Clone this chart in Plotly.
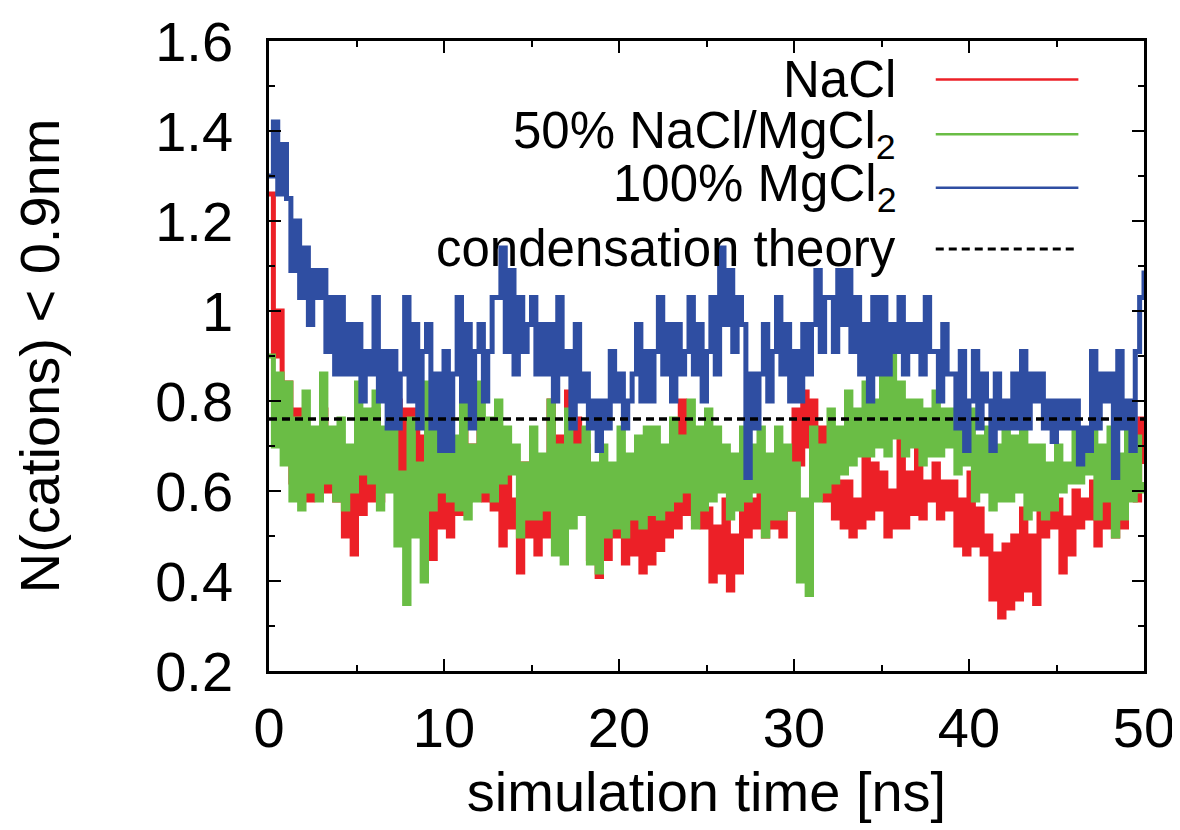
import plotly.graph_objects as go

step = 0.25

# N(cations) < 0.9 nm (4 samples per ns, last one at t=50)
nacl = [
    1.26, 0.90, 1.00, 0.75,  0.84, 0.62, 0.78, 0.66,  0.70, 0.58, 0.66, 0.60,  0.78, 0.60, 0.70, 0.58,
    0.64, 0.50, 0.60, 0.46,  0.76, 0.55, 0.68, 0.58,  0.78, 0.58, 0.72, 0.62,  0.68, 0.80, 0.64, 0.78,
    0.66, 0.78, 0.62, 0.72,  0.60, 0.45, 0.64, 0.52,  0.62, 0.50, 0.68, 0.55,  0.78, 0.58, 0.70, 0.62,
    0.74, 0.58, 0.66, 0.56,  0.62, 0.48, 0.66, 0.52,  0.58, 0.42, 0.66, 0.50,  0.62, 0.46, 0.58, 0.50,
    0.80, 0.55, 0.72, 0.60,  0.82, 0.62, 0.76, 0.60,  0.70, 0.45, 0.62, 0.41,  0.58, 0.45, 0.62, 0.50,
    0.58, 0.44, 0.55, 0.46,  0.56, 0.42, 0.58, 0.44,  0.62, 0.47, 0.58, 0.50,  0.66, 0.52, 0.80, 0.55,
    0.74, 0.54, 0.68, 0.52,  0.56, 0.40, 0.52, 0.42,  0.58, 0.38, 0.50, 0.42,  0.62, 0.50, 0.58, 0.52,
    0.62, 0.50, 0.56, 0.52,  0.68, 0.50, 0.62, 0.56,  0.78, 0.66, 0.82, 0.70,  0.80, 0.62, 0.74, 0.58,
    0.64, 0.54, 0.62, 0.52,  0.62, 0.50, 0.58, 0.52,  0.68, 0.54, 0.66, 0.56,  0.64, 0.50, 0.60, 0.52,
    0.72, 0.52, 0.64, 0.55,  0.70, 0.54, 0.62, 0.58,  0.66, 0.54, 0.62, 0.56,  0.62, 0.48, 0.58, 0.46,
    0.64, 0.48, 0.56, 0.46,  0.50, 0.36, 0.46, 0.32,  0.48, 0.34, 0.50, 0.36,  0.56, 0.38, 0.50, 0.35,
    0.62, 0.50, 0.60, 0.52,  0.58, 0.42, 0.54, 0.46,  0.60, 0.52, 0.58, 0.54,  0.62, 0.48, 0.60, 0.52,
    0.58, 0.50, 0.56, 0.52,  0.60, 0.70, 0.58, 0.76,
    0.66,
]

mix50 = [
    0.90, 0.70, 0.86, 0.66,  0.84, 0.58, 0.76, 0.56,  0.82, 0.60, 0.74, 0.58,  0.86, 0.62, 0.74, 0.58,
    0.76, 0.56, 0.70, 0.60,  0.84, 0.64, 0.78, 0.62,  0.82, 0.56, 0.74, 0.60,  0.74, 0.48, 0.64, 0.35,
    0.76, 0.50, 0.66, 0.40,  0.84, 0.56, 0.76, 0.60,  0.78, 0.58, 0.72, 0.56,  0.80, 0.54, 0.70, 0.58,
    0.84, 0.60, 0.76, 0.58,  0.80, 0.62, 0.74, 0.64,  0.70, 0.50, 0.66, 0.54,  0.74, 0.54, 0.68, 0.56,
    0.80, 0.46, 0.70, 0.44,  0.78, 0.52, 0.70, 0.55,  0.74, 0.44, 0.66, 0.42,  0.70, 0.50, 0.66, 0.52,
    0.74, 0.50, 0.68, 0.54,  0.72, 0.52, 0.74, 0.55,  0.74, 0.54, 0.70, 0.56,  0.76, 0.58, 0.72, 0.60,
    0.80, 0.52, 0.74, 0.56,  0.78, 0.58, 0.74, 0.60,  0.70, 0.54, 0.68, 0.56,  0.74, 0.58, 0.70, 0.60,
    0.74, 0.50, 0.68, 0.54,  0.74, 0.54, 0.70, 0.56,  0.66, 0.40, 0.58, 0.37,  0.74, 0.58, 0.70, 0.60,
    0.78, 0.62, 0.74, 0.64,  0.82, 0.66, 0.78, 0.68,  0.84, 0.68, 0.80, 0.70,  0.88, 0.68, 0.90, 0.72,
    0.84, 0.68, 0.80, 0.70,  0.80, 0.66, 0.78, 0.68,  0.82, 0.68, 0.78, 0.70,  0.78, 0.64, 0.74, 0.66,
    0.78, 0.58, 0.72, 0.60,  0.74, 0.56, 0.70, 0.58,  0.76, 0.58, 0.72, 0.60,  0.74, 0.54, 0.70, 0.56,
    0.70, 0.54, 0.66, 0.56,  0.70, 0.60, 0.66, 0.62,  0.74, 0.62, 0.70, 0.64,  0.76, 0.54, 0.70, 0.58,
    0.74, 0.50, 0.68, 0.54,  0.76, 0.58, 0.72, 0.60,
    0.62,
]

mgcl2 = [
    1.30, 1.42, 1.26, 1.37,  1.25, 1.09, 1.20, 1.03,  1.14, 0.97, 1.09, 1.03,  1.09, 0.91, 1.03, 0.86,
    1.03, 0.86, 0.97, 0.86,  0.97, 0.80, 0.91, 0.86,  1.03, 0.80, 0.91, 0.74,  0.91, 0.74, 0.86, 1.03,
    0.80, 0.97, 0.74, 0.91,  0.97, 0.74, 0.86, 0.69,  0.91, 0.69, 0.86, 1.03,  0.80, 0.97, 0.74, 0.91,
    0.97, 0.80, 0.91, 1.03,  1.03, 1.14, 0.91, 1.09,  0.86, 1.03, 0.91, 0.97,  1.03, 0.86, 0.97, 0.86,
    0.97, 0.80, 1.03, 0.86,  0.91, 0.74, 0.97, 0.80,  0.86, 0.74, 0.80, 0.69,  0.80, 0.74, 0.91, 0.80,
    0.86, 0.74, 0.80, 0.86,  0.97, 0.80, 0.91, 0.80,  0.91, 1.03, 0.86, 0.97,  0.80, 0.97, 0.86, 0.91,
    1.03, 0.86, 0.97, 0.80,  0.91, 1.03, 0.86, 1.14,  0.97, 1.09, 0.91, 1.03,  0.97, 0.63, 0.86, 0.74,
    0.86, 0.97, 0.80, 0.91,  1.03, 0.86, 0.97, 0.80,  0.91, 0.80, 0.97, 0.86,  0.97, 1.09, 0.91, 1.03,
    1.03, 0.91, 1.09, 0.97,  1.09, 0.91, 1.03, 0.86,  0.97, 0.80, 1.03, 0.86,  1.03, 0.86, 0.97, 0.91,
    1.03, 0.86, 0.97, 0.91,  0.97, 0.86, 1.03, 0.91,  0.91, 0.80, 0.97, 0.86,  0.86, 0.74, 0.91, 0.69,
    0.80, 0.91, 0.74, 0.86,  0.80, 0.69, 0.86, 0.74,  0.80, 0.74, 0.86, 0.74,  0.91, 0.74, 0.86, 0.80,
    0.86, 0.74, 0.80, 0.71,  0.80, 0.74, 0.80, 0.74,  0.80, 0.66, 0.74, 0.69,  0.91, 0.74, 0.86, 0.80,
    0.86, 0.63, 0.91, 0.74,  0.80, 0.69, 0.91, 1.03,
    1.09,
]

theory_value = 0.76
x_range = [0, 50]
y_range = [0.2, 1.6]
x_ticks = [0, 10, 20, 30, 40, 50]
y_ticks = [0.2, 0.4, 0.6, 0.8, 1.0, 1.2, 1.4, 1.6]
y_tick_text = ["0.2", "0.4", "0.6", "0.8", "1", "1.2", "1.4", "1.6"]

series_names = ["NaCl", "50% NaCl/MgCl<sub>2</sub>", "100% MgCl<sub>2</sub>", "condensation theory"]
series_colors = ["#ec2027", "#6abd45", "#2f4ea2", "#000000"]

times = [i * step for i in range(len(nacl))]

FONT = "Liberation Sans, Arial, Helvetica, sans-serif"
FS = 56
FS_LEG = 51

fig = go.Figure()
for vals, name, col in zip([nacl, mix50, mgcl2], series_names[:3], series_colors[:3]):
    fig.add_trace(go.Scatter(x=times, y=vals, mode="lines", name=name,
                             line=dict(color=col, width=5, shape="hv"), showlegend=False))

fig.add_trace(go.Scatter(x=x_range, y=[theory_value, theory_value], mode="lines",
                         name=series_names[3], showlegend=False,
                         line=dict(color="black", width=3.5, dash="8px,5px")))

# manual gnuplot-style legend (text right-aligned, sample line to the right)
leg_y = [0.939, 0.852, 0.767, 0.670]
for name, col, yy, i in zip(series_names, series_colors, leg_y, range(4)):
    fig.add_annotation(x=0.719, y=yy, xref="paper", yref="paper", text=name,
                       showarrow=False, xanchor="right", yanchor="middle",
                       font=dict(family=FONT, size=FS_LEG, color="black"))
    fig.add_shape(type="line", xref="paper", yref="paper", x0=0.762, x1=0.925, y0=yy, y1=yy,
                  line=dict(color=col, width=2.5 if i < 3 else 3, dash="8px,5px" if i == 3 else "solid"))

axis_common = dict(showline=True, linecolor="black", linewidth=2.5, mirror="allticks",
                   ticks="inside", ticklen=12, tickwidth=2, tickcolor="black",
                   showgrid=False, zeroline=False,
                   tickfont=dict(family=FONT, size=FS, color="black"))

fig.update_xaxes(range=x_range, tickvals=x_ticks, ticklabelstandoff=6,
                 minor=dict(dtick=5, ticks="inside", ticklen=6, tickwidth=2, tickcolor="black", showgrid=False),
                 title=dict(text="simulation time [ns]", font=dict(family=FONT, size=FS, color="black"), standoff=14),
                 **axis_common)
fig.update_yaxes(range=y_range, tickvals=y_ticks, ticktext=y_tick_text, ticklabelstandoff=22,
                 minor=dict(dtick=0.1, ticks="inside", ticklen=6, tickwidth=2, tickcolor="black", showgrid=False),
                 title=dict(text="N(cations) &lt; 0.9nm", font=dict(family=FONT, size=FS, color="black"), standoff=80),
                 **axis_common)

fig.update_layout(width=1180, height=830, plot_bgcolor="white", paper_bgcolor="white",
                  margin=dict(l=261, r=44, t=33, b=167, autoexpand=False), showlegend=False)

fig.write_html("out.html")
